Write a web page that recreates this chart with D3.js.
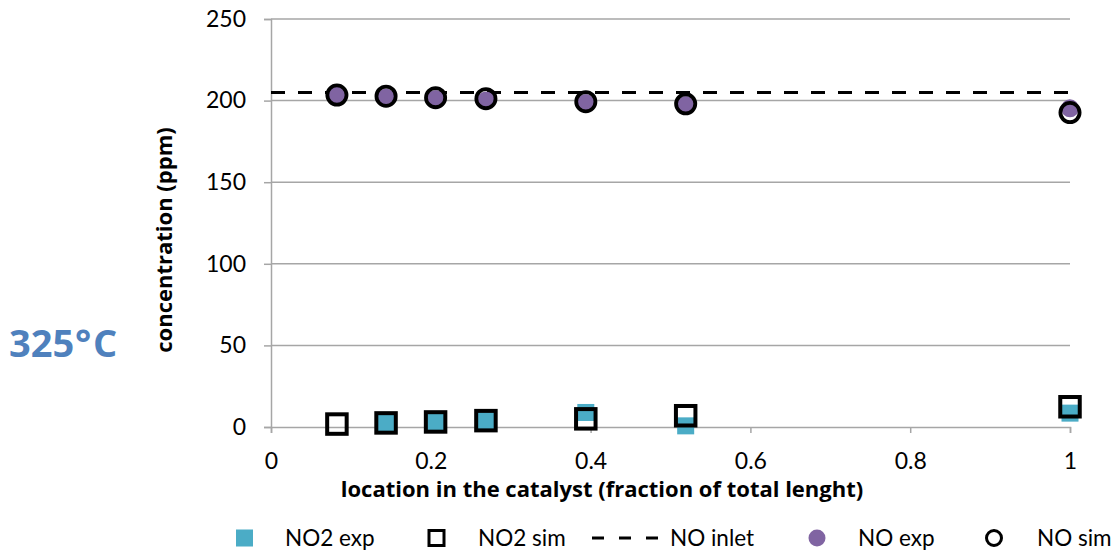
<!DOCTYPE html>
<html>
<head>
<meta charset="utf-8">
<script src="https://cdn.jsdelivr.net/npm/d3@7"></script>
<style>
  html, body { margin: 0; padding: 0; background: #fff; }
  svg { display: block; font-family: Lato, "Open Sans", sans-serif; }
</style>
</head>
<body>
<svg id="chart" width="1118" height="553"></svg>
<script>
// Sampling locations along the catalyst (fraction of total length)
const locations = [0.0825, 0.144, 0.206, 0.269, 0.394, 0.519, 1.0];
const no2ExpLocations = [0.144, 0.206, 0.269, 0.394, 0.519, 1.0];

// Concentrations (ppm)
const no2Exp = [2.5, 3.1, 3.9, 8.9, 0.7, 8.5];
const no2Sim = [1.8, 2.5, 3.1, 3.9, 5.0, 6.9, 12.4];
const noExp = [203.4, 201.9, 201.0, 200.1, 198.5, 197.3, 195.3];
const noSim = [203.4, 202.7, 201.8, 201.2, 199.3, 198.0, 192.7];
const noInlet = 205;

const xTicks = [0, 0.2, 0.4, 0.6, 0.8, 1];
const yTicks = [0, 50, 100, 150, 200, 250];

const legendLabels = ["NO2 exp", "NO2 sim", "NO inlet", "NO exp", "NO sim"];

const colors = { no2: "#4bacc6", no: "#8064a2", grid: "#a6a6a6" };
const font = "Lato, 'Open Sans', sans-serif";
const boldFont = "'Open Sans', Lato, sans-serif";

const svg = d3.select("#chart");
const x = d3.scaleLinear().domain([0, 1]).range([271, 1070]);
const y = d3.scaleLinear().domain([0, 250]).range([427, 19]);

// Horizontal gridlines
svg.append("g")
  .selectAll("line")
  .data(yTicks.filter(d => d > 0))
  .join("line")
  .attr("x1", x(0)).attr("x2", x(1))
  .attr("y1", d => y(d)).attr("y2", d => y(d))
  .attr("stroke", colors.grid).attr("stroke-width", 1.5);

// Y axis
const yAxis = svg.append("g")
  .attr("transform", `translate(${x(0)},0)`)
  .call(d3.axisLeft(y).tickValues(yTicks).tickSize(7).tickPadding(18));
yAxis.select(".domain").attr("stroke", colors.grid).attr("stroke-width", 1.5);
yAxis.selectAll(".tick line").attr("stroke", colors.grid).attr("stroke-width", 1.5);
yAxis.selectAll(".tick text")
  .attr("font-family", font)
  .attr("font-size", 23).attr("fill", "#000");

// X axis
const xAxis = svg.append("g")
  .attr("transform", `translate(0,${y(0)})`)
  .call(d3.axisBottom(x).tickValues(xTicks).tickFormat(d3.format("")).tickSize(6).tickPadding(20));
xAxis.select(".domain").attr("stroke", colors.grid).attr("stroke-width", 1.5);
xAxis.selectAll(".tick line").attr("stroke", colors.grid).attr("stroke-width", 1.5);
xAxis.selectAll(".tick text")
  .attr("font-family", font)
  .attr("font-size", 23).attr("fill", "#000");

// Axis titles
svg.append("text")
  .attr("x", 602).attr("y", 497)
  .attr("text-anchor", "middle")
  .attr("font-family", boldFont)
  .attr("font-weight", "bold").attr("font-size", 22)
  .text("location in the catalyst (fraction of total lenght)");

svg.append("text")
  .attr("transform", "translate(172,240) rotate(-90)")
  .attr("text-anchor", "middle")
  .attr("font-family", boldFont)
  .attr("font-weight", "bold").attr("font-size", 22)
  .text("concentration (ppm)");

// Temperature label
const temp = svg.append("text")
  .attr("y", 357)
  .attr("font-family", boldFont)
  .attr("font-weight", "bold").attr("font-size", 38)
  .attr("fill", "#4f81bd");
temp.append("tspan").attr("x", 9).text("325");
temp.append("tspan").attr("x", 75).text("°");
temp.append("tspan").attr("x", 93).text("C");

const plot = svg.append("g");

// NO2 experimental (filled squares)
const sqExp = 17;
plot.append("g").selectAll("rect")
  .data(no2ExpLocations.map((l, i) => [l, no2Exp[i]]))
  .join("rect")
  .attr("x", d => x(d[0]) - sqExp / 2).attr("y", d => y(d[1]) - sqExp / 2)
  .attr("width", sqExp).attr("height", sqExp)
  .attr("fill", colors.no2);

// NO2 simulated (open squares)
const sqSim = 19.5;
plot.append("g").selectAll("rect")
  .data(locations.map((l, i) => [l, no2Sim[i]]))
  .join("rect")
  .attr("x", d => x(d[0]) - sqSim / 2).attr("y", d => y(d[1]) - sqSim / 2)
  .attr("width", sqSim).attr("height", sqSim)
  .attr("fill", "none").attr("stroke", "#000").attr("stroke-width", 4);

// NO inlet level
plot.append("line")
  .attr("x1", x(0)).attr("x2", x(1))
  .attr("y1", y(noInlet)).attr("y2", y(noInlet))
  .attr("stroke", "#000").attr("stroke-width", 3)
  .attr("stroke-dasharray", "14,13");

// NO experimental (filled circles)
plot.append("g").selectAll("circle")
  .data(locations.map((l, i) => [l, noExp[i]]))
  .join("circle")
  .attr("cx", d => x(d[0])).attr("cy", d => y(d[1]))
  .attr("r", 9)
  .attr("fill", colors.no);

// NO simulated (open circles)
plot.append("g").selectAll("circle")
  .data(locations.map((l, i) => [l, noSim[i]]))
  .join("circle")
  .attr("cx", d => x(d[0])).attr("cy", d => y(d[1]))
  .attr("r", 9.6)
  .attr("fill", "none").attr("stroke", "#000").attr("stroke-width", 3.8);

// Legend
const legend = svg.append("g").attr("font-size", 22.5).attr("font-family", font);
const ly = 538;
legend.append("rect").attr("x", 236).attr("y", ly - 8.5).attr("width", 17).attr("height", 17)
  .attr("fill", colors.no2);
legend.append("rect").attr("x", 429).attr("y", ly - 7.5).attr("width", 15).attr("height", 15)
  .attr("fill", "none").attr("stroke", "#000").attr("stroke-width", 3);
legend.append("line").attr("x1", 592).attr("x2", 661).attr("y1", ly).attr("y2", ly)
  .attr("stroke", "#000").attr("stroke-width", 3).attr("stroke-dasharray", "12,15");
legend.append("circle").attr("cx", 817).attr("cy", ly).attr("r", 8.5).attr("fill", colors.no);
legend.append("circle").attr("cx", 994).attr("cy", ly).attr("r", 7.5)
  .attr("fill", "none").attr("stroke", "#000").attr("stroke-width", 3);
const labelX = [285, 478, 670, 858, 1037];
legend.selectAll("text.lbl")
  .data(legendLabels)
  .join("text")
  .attr("class", "lbl")
  .attr("x", (d, i) => labelX[i]).attr("y", ly + 7.5)
  .attr("fill", "#000")
  .text(d => d);
</script>
</body>
</html>
